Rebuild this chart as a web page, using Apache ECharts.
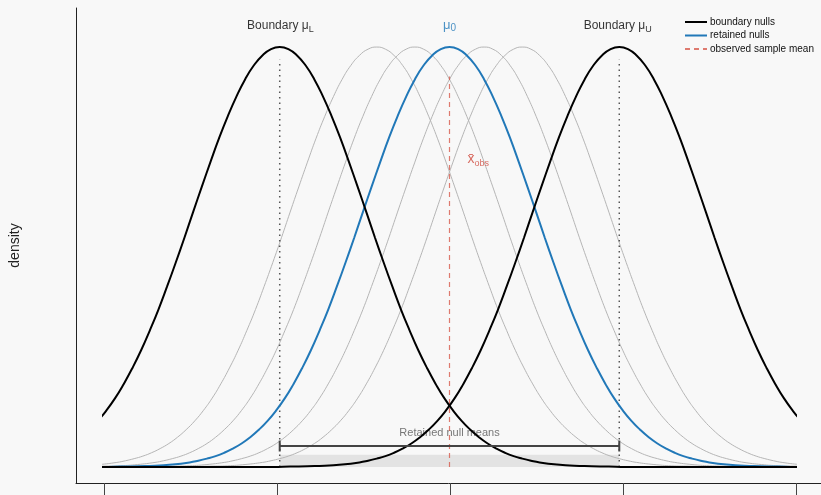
<!DOCTYPE html>
<html>
<head>
<meta charset="utf-8">
<style>
  html, body { margin: 0; padding: 0; background: #f8f8f8; }
  #chart { width: 821px; height: 495px; }
</style>
<script src="https://cdn.jsdelivr.net/npm/echarts@6/dist/echarts.min.js"></script>
</head>
<body>
<div id="chart"></div>
<script>
// x-axis tick positions (labels are cut off in the picture)
var xTicks = [-2, -1, 0, 1, 2]
// one density profile (height relative to the peak), by distance from the mean
var profileOffsets = [0, 0.05, 0.1, 0.15, 0.2, 0.25, 0.3, 0.35, 0.4, 0.45, 0.5, 0.55, 0.6, 0.65, 0.7, 0.75, 0.8, 0.85, 0.9, 0.95,
  1.0, 1.05, 1.1, 1.15, 1.2, 1.25, 1.3, 1.35, 1.4, 1.45, 1.5, 1.6, 1.7, 1.8, 1.9, 2.0, 2.5, 3.0]
var profileHeights = [1.0, 0.995, 0.98, 0.956, 0.923, 0.882, 0.835, 0.783, 0.726, 0.667, 0.607, 0.546, 0.487, 0.43, 0.375, 0.325, 0.278, 0.236, 0.198, 0.164,
  0.135, 0.11, 0.089, 0.071, 0.056, 0.044, 0.034, 0.026, 0.02, 0.015, 0.011, 0.006, 0.003, 0.002, 0.001, 0, 0, 0]
// means of the null distributions
var boundaryMeans = [-0.98, 0.98]
var retainedMean = 0
var otherNullMeans = [-0.42, -0.2, 0.2, 0.42]
var obsMean = 0
var retainedRange = [-0.98, 0.98]

var chart = echarts.init(document.getElementById('chart'))

// build the points of one curve from the shared profile
function curve(center) {
  var pts = []
  for (var i = profileOffsets.length - 1; i > 0; i--) {
    pts.push([center - profileOffsets[i], profileHeights[i]])
  }
  for (var j = 0; j < profileOffsets.length; j++) {
    pts.push([center + profileOffsets[j], profileHeights[j]])
  }
  return pts
}

var yMin = -0.038
var yMax = 1.093
var font = 'Liberation Sans, Arial, sans-serif'

function lineSeries(name, data, color, width, type, z, smooth) {
  return {
    name: name,
    type: 'line',
    xAxisIndex: 1,
    yAxisIndex: 1,
    data: data,
    smooth: smooth ? 0.5 : false,
    showSymbol: false,
    symbol: 'none',
    silent: true,
    clip: true,
    z: z,
    itemStyle: { color: color },
    lineStyle: { color: color, width: width, type: type || 'solid' }
  }
}

// text anchored at a data point; align/offset are pixel styling only
function textSeries(x, y, text, size, color, align, offset, z) {
  return {
    type: 'scatter',
    xAxisIndex: 1,
    yAxisIndex: 1,
    symbolSize: 0,
    silent: true,
    z: z || 10,
    data: [[x, y]],
    label: {
      show: true,
      position: 'inside',
      formatter: text,
      fontFamily: font,
      fontSize: size,
      color: color,
      align: align || 'center',
      verticalAlign: 'middle',
      offset: offset || [0, 0]
    }
  }
}

var series = []

// shaded band for the retained range
series.push({
  type: 'line',
  xAxisIndex: 1,
  yAxisIndex: 1,
  data: [],
  z: 1,
  markArea: {
    silent: true,
    itemStyle: { color: '#e3e3e3' },
    data: [[{ coord: [retainedRange[0], 0] }, { coord: [retainedRange[1], 0.029] }]]
  }
})

otherNullMeans.forEach(function(m) {
  series.push(lineSeries('', curve(m), '#b5b5b5', 1, 'solid', 2, true))
})
series.push(lineSeries('retained nulls', curve(retainedMean), '#2178b8', 2, 'solid', 4, true))
boundaryMeans.forEach(function(m) {
  series.push(lineSeries('boundary nulls', curve(m), '#000000', 2, 'solid', 5, true))
})

// dotted boundary markers
boundaryMeans.forEach(function(m) {
  series.push(lineSeries('', [[m, 0], [m, 0.97]], '#555555', 1.5, [1.5, 4], 3))
})
// observed mean
series.push(lineSeries('observed sample mean', [[obsMean, 0], [obsMean, 0.93]], 'rgba(214,80,66,0.75)', 1.2, [5, 4], 3))

// bracket
series.push(lineSeries('', [[retainedRange[0], 0.05], [retainedRange[1], 0.05]], '#444444', 2, 'solid', 6))
retainedRange.forEach(function(m) {
  series.push(lineSeries('', [[m, 0.037], [m, 0.063]], '#444444', 2, 'solid', 6))
})

// titles over the boundary and retained means, with subscripts
series.push(textSeries(boundaryMeans[0], 1.052, 'Boundary μ', 12, '#000', 'right', [29, 0]))
series.push(textSeries(boundaryMeans[0], 1.052, 'L', 9, '#000', 'left', [29, 4]))
series.push(textSeries(boundaryMeans[1], 1.052, 'Boundary μ', 12, '#000', 'right', [26, 0]))
series.push(textSeries(boundaryMeans[1], 1.052, 'U', 9, '#000', 'left', [26, 4]))
series.push(textSeries(retainedMean, 1.052, 'μ', 13, '#2178b8', 'right', [1, 0]))
series.push(textSeries(retainedMean, 1.052, '0', 10, '#2178b8', 'left', [1, 3]))
series.push(textSeries(obsMean, 0.73, 'x̄', 14, '#d0483c', 'left', [18, -1]))
series.push(textSeries(obsMean, 0.73, 'obs', 9, '#d0483c', 'left', [25, 3]))
series.push(textSeries(retainedMean, 0.081, 'Retained null means', 11, '#555555', 'center', [0, 0], 1))

var option = {
  backgroundColor: '#f8f8f8',
  animation: false,
  textStyle: { fontFamily: font },
  legend: {
    data: ['boundary nulls', 'retained nulls', 'observed sample mean'],
    orient: 'vertical',
    left: 679,
    top: 12,
    itemWidth: 22,
    itemHeight: 10,
    itemGap: 3.5,
    selectedMode: false,
    itemStyle: { opacity: 0 },
    textStyle: { fontSize: 10, color: '#111', padding: [0, 0, 0, -2] }
  },
  grid: [
    { left: 75, right: 0, top: 8, bottom: 12 },
    { left: 103, right: 25, top: 8, bottom: 12 }
  ],
  xAxis: [
    {
      type: 'value',
      gridIndex: 0,
      min: -2.1616,
      max: 2.1443,
      splitLine: { show: false },
      axisLine: { show: true, onZero: false, lineStyle: { color: '#222', width: 1 } },
      axisTick: { show: true, customValues: xTicks, length: 14, lineStyle: { color: '#444', width: 1 } },
      axisLabel: { show: false }
    },
    {
      type: 'value',
      gridIndex: 1,
      min: -2,
      max: 2,
      show: false
    }
  ],
  yAxis: [
    {
      type: 'value',
      gridIndex: 0,
      min: yMin,
      max: yMax,
      name: 'density',
      nameLocation: 'middle',
      nameRotate: 90,
      nameGap: 54,
      nameTextStyle: { fontSize: 14, color: '#222', fontFamily: font },
      splitLine: { show: false },
      axisLine: { show: true, onZero: false, lineStyle: { color: '#222', width: 1 } },
      axisTick: { show: false },
      axisLabel: { show: false }
    },
    {
      type: 'value',
      gridIndex: 1,
      min: yMin,
      max: yMax,
      show: false
    }
  ],
  series: series
}

chart.setOption(option)
</script>
</body>
</html>
